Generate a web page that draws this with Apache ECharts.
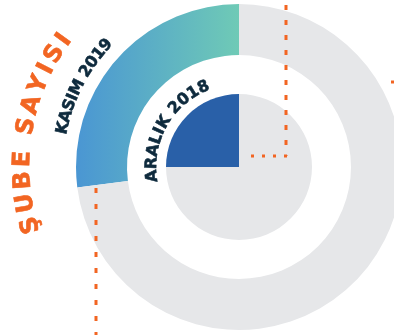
<!DOCTYPE html>
<html>
<head>
<meta charset="utf-8">
<script src="https://cdn.jsdelivr.net/npm/echarts@6/dist/echarts.min.js"></script>
<style>
  html, body { margin: 0; padding: 0; background: #fff; }
  #chart { width: 394px; height: 335px; }
</style>
</head>
<body>
<div id="chart"></div>
<script>
// veriler
const outerNames = ['Kasım 2019', 'Diğer'];
const outerValues = [27, 73];
const innerNames = ['Aralık 2018', 'Diğer'];
const innerValues = [25, 75];
const titleText = 'ŞUBE SAYISI';
const outerLabel = 'KASIM 2019';
const innerLabel = 'ARALIK 2018';

const CX = 239;
const CY = 167;
const GRAY = '#e6e7e9';
const ORANGE = '#f26522';
const NAVY = '#0e2a3d';
const FONT = '"DejaVu Sans", sans-serif';

const measure = document.createElement('canvas').getContext('2d');

// yay boyunca harf harf yazı (a0: ilk harf, a1: son harf, derece)
function arcText(str, r, a0, a1, size, color) {
  const font = 'bold ' + size + 'px ' + FONT;
  measure.font = font;
  const chars = Array.from(str);
  const w = chars.map(c => measure.measureText(c).width);
  let natural = 0;
  for (let i = 0; i < chars.length - 1; i++) natural += (w[i] + w[i + 1]) / 2;
  const arc = (a0 - a1) * Math.PI / 180 * r;
  const extra = (arc - natural) / (chars.length - 1);
  const els = [];
  let s = 0;
  chars.forEach((c, i) => {
    if (i > 0) s += (w[i - 1] + w[i]) / 2 + extra;
    const th = a0 * Math.PI / 180 - s / r;
    els.push({
      type: 'text',
      x: CX + r * Math.cos(th),
      y: CY - r * Math.sin(th),
      rotation: th - Math.PI / 2,
      z: 100,
      silent: true,
      style: {
        text: c, font: font, fill: color, stroke: color, lineWidth: 0.6,
        align: 'center', verticalAlign: 'middle',
        textAlign: 'center', textVerticalAlign: 'middle'
      }
    });
  });
  return els;
}

// kesikli turuncu çizgiler
const leaders = [
  { points: [[286, 5], [286, 156]], dash: [5, 10] },
  { points: [[251, 156], [287, 156]], dash: [3, 8] },
  { points: [[96, 188], [96, 335]], dash: [5, 11] },
  { points: [[391, 82], [400, 82]], dash: [4, 8] }
];

const chart = echarts.init(document.getElementById('chart'));

const option = {
  animation: false,
  series: [
    {
      type: 'pie',
      center: [CX, CY],
      radius: [112, 163],
      startAngle: 90,
      clockwise: false,
      silent: true,
      label: { show: false },
      labelLine: { show: false },
      data: outerValues.map((v, i) => ({
        name: outerNames[i],
        value: v,
        itemStyle: {
          color: i === 0
            ? new echarts.graphic.LinearGradient(0, 0, 1, 0, [
              { offset: 0, color: '#4a96d3' },
              { offset: 1, color: '#6fcab6' }
            ])
            : GRAY
        }
      }))
    },
    {
      type: 'pie',
      center: [CX, CY],
      radius: [0, 73],
      startAngle: 90,
      clockwise: false,
      silent: true,
      label: { show: false },
      labelLine: { show: false },
      data: innerValues.map((v, i) => ({
        name: innerNames[i],
        value: v,
        itemStyle: { color: i === 0 ? '#2960a8' : GRAY }
      }))
    }
  ],
  graphic: [
    ...leaders.map(l => ({
      type: 'polyline',
      silent: true,
      z: 100,
      shape: { points: l.points },
      style: { stroke: ORANGE, lineWidth: 3, lineDash: l.dash, fill: null }
    })),
    ...arcText(titleText, 216, 195.5, 144, 24, ORANGE),
    ...arcText(outerLabel, 180, 167.5, 137.5, 16, NAVY),
    ...arcText(innerLabel, 87, 186, 114, 16, NAVY)
  ]
};

chart.setOption(option);
</script>
</body>
</html>
